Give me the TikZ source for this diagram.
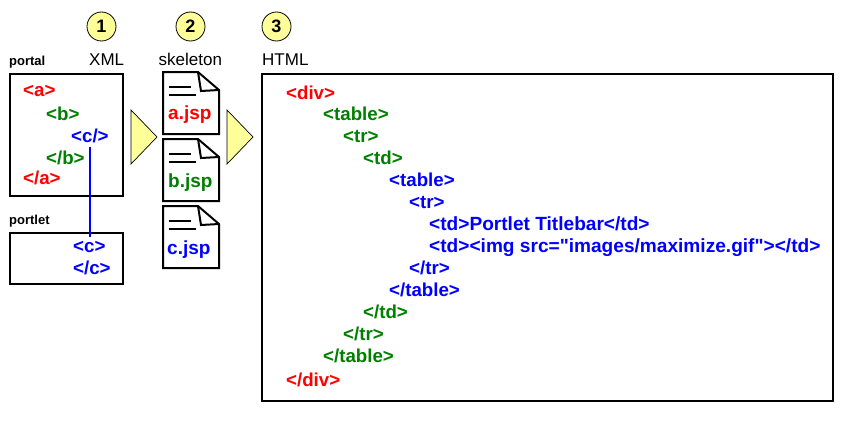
\documentclass[tikz,border=0pt]{standalone}
\usepackage{fontspec}
\newfontfamily\lib{Liberation Sans}
\definecolor{tagred}{RGB}{255,0,0}
\definecolor{taggreen}{RGB}{0,128,0}
\definecolor{tagblue}{RGB}{0,0,255}
\definecolor{pale}{RGB}{255,255,153}
\tikzset{
 x=1pt,y=-1pt,
 frame/.style={draw=black,line width=2pt,fill=white},
 tag/.style={anchor=base west,inner sep=0pt,font=\lib\fontsize{18.7}{19}\selectfont\bfseries},
 red/.style={tag,text=tagred},
 grn/.style={tag,text=taggreen},
 blu/.style={tag,text=tagblue},
 longtag/.style={blu,font=\lib\fontsize{19.1}{20}\selectfont\bfseries},
 small/.style={anchor=base west,inner sep=0pt,font=\lib\fontsize{13}{14}\selectfont\bfseries},
 head/.style={anchor=base west,inner sep=0pt,font=\lib\fontsize{17}{17}\selectfont},
 num/.style={circle,draw=black,line width=0.8pt,fill=pale,minimum size=29pt,inner sep=0pt,font=\lib\fontsize{18}{18}\selectfont\bfseries},
 tri/.style={draw=black,line width=0.7pt,fill=pale},
 jsp/.style={anchor=base west,inner sep=0pt,font=\lib\fontsize{19}{19}\selectfont\bfseries},
}
\newcommand{\docicon}[2]{%
 \begin{scope}[shift={(#1,#2)}]
 \draw[black,line width=2pt,fill=white,line join=miter] (0,0) -- (35,0) -- (56,18) -- (56,62) -- (0,62) -- cycle;
 \draw[black,line width=2pt] (35,0) -- (38,19) -- (56,18);
 \draw[black,line width=2pt] (6,15) -- (28,15) (6,23) -- (33,23);
 \end{scope}}
\begin{document}
\begin{tikzpicture}
\useasboundingbox (0,0) rectangle (850,420);
\node[num] (n1) at (101.5,26.5) {1};
\node[num] (n2) at (190.5,26.5) {2};
\node[num] (n3) at (276.5,26.5) {3};
\node[small] (lportal) at (9,66) {portal};
\node[head] (lxml) at (89,66) {XML};
\node[head] (lskel) at (158.5,66) {skeleton};
\node[head] (lhtml) at (262,66) {HTML};
\draw[frame] (10,74) rectangle (123,196);
\node[small] (lportlet) at (9,224) {portlet};
\draw[frame] (10,233) rectangle (123,284);
\draw[frame] (262,74) rectangle (833,401);
\node[red] (a1) at (23,96) {<a>};
\node[grn] (b1) at (46,120) {<b>};
\node[blu] (c1) at (71,142) {<c/>};
\node[grn] (b2) at (46,164) {</b>};
\node[red] (a2) at (23,184) {</a>};
\node[blu] (c2) at (73,252) {<c>};
\node[blu] (c3) at (73,274) {</c>};
\coordinate (cs) at (90,147);
\coordinate (ce) at (90,237);
\draw[tagblue,line width=2pt] (cs) -- (ce);
\draw[tri] (131,110) -- (157,137) -- (131,164) -- cycle;
\draw[tri] (227,110) -- (253,137) -- (227,164) -- cycle;
\docicon{163}{72}
\docicon{163}{139}
\docicon{163}{206}
\node[jsp,text=tagred] (ja) at (168,119) {a.jsp};
\node[jsp,text=taggreen] (jb) at (168,187) {b.jsp};
\node[jsp,text=tagblue] (jc) at (167,254) {c.jsp};
\node[red] (h1) at (286,99) {<div>};
\node[grn] (h2) at (323,120) {<table>};
\node[grn] (h3) at (343,142) {<tr>};
\node[grn] (h4) at (363,164) {<td>};
\node[blu] (h5) at (389,186) {<table>};
\node[blu] (h6) at (409,208) {<tr>};
\node[longtag] (h7) at (429,230) {<td>Portlet Titlebar</td>};
\node[longtag] (h8) at (429,252) {<td><img src="images/maximize.gif"></td>};
\node[blu] (h9) at (409,274) {</tr>};
\node[blu] (h10) at (389,296) {</table>};
\node[grn] (h11) at (363,318) {</td>};
\node[grn] (h12) at (343,340) {</tr>};
\node[grn] (h13) at (323,362) {</table>};
\node[red] (h14) at (286,386) {</div>};
\end{tikzpicture}
\end{document}
